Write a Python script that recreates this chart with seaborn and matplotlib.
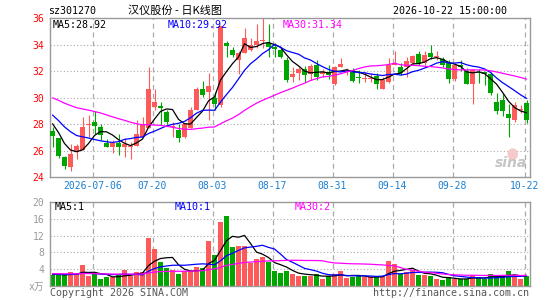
import numpy as np
import pandas as pd
import matplotlib
matplotlib.use("Agg")
import matplotlib.pyplot as plt
from matplotlib.patches import Ellipse
import seaborn as sns

# ---------------- data ----------------
code = "sz301270"
title = "汉仪股份 - 日K线图"
stamp = "2026-10-22 15:00:00"

opens = [27.5, 27.0, 25.55, 24.8, 25.9, 26.05, 27.95, 28.15, 27.8, 26.6,
         26.3, 26.6, 26.3, 26.28, 26.4, 27.05, 27.7, 29.33, 29.4, 28.9,
         27.78, 27.55, 27.05, 27.7, 29.05, 30.65, 30.45, 30.0, 29.45, 34.1,
         33.6, 32.85, 33.35, 33.6, 34.0, 34.28, 34.1, 33.8, 33.6, 32.85,
         31.6, 31.85, 32.15, 31.8, 32.5, 31.8, 31.95, 31.05, 32.35, 32.03,
         32.1, 31.53, 31.45, 31.45, 31.65, 30.7, 31.2, 32.48, 32.3, 32.35,
         32.6, 33.3, 32.6, 33.4, 33.05, 32.9, 32.6, 31.45, 32.5, 32.05,
         31.05, 31.95, 31.87, 31.8, 29.7, 29.8, 28.8, 28.3, 29.05, 29.6]
closes = [27.1, 25.6, 24.85, 25.75, 26.35, 27.8, 28.0, 27.9, 27.2, 26.25,
          26.6, 26.25, 26.55, 26.32, 27.25, 28.05, 30.7, 29.65, 29.2, 28.2,
          27.82, 27.0, 28.0, 29.05, 30.7, 30.2, 30.9, 29.5, 35.4, 33.9,
          33.2, 33.4, 34.5, 34.0, 34.25, 34.32, 33.8, 33.65, 33.1, 31.35,
          31.8, 32.15, 31.7, 32.4, 31.6, 31.95, 31.7, 32.3, 32.55, 32.07,
          31.3, 31.5, 31.5, 31.48, 31.05, 31.35, 32.45, 32.6, 31.85, 32.75,
          33.15, 32.55, 33.2, 33.1, 33.15, 32.5, 31.45, 32.5, 32.3, 31.05,
          32.1, 31.85, 31.83, 30.4, 29.0, 29.0, 28.5, 29.45, 29.1, 28.3]
highs = [27.8, 27.0, 25.6, 26.5, 26.55, 28.55, 28.7, 29.0, 28.0, 26.9,
         26.8, 27.25, 26.95, 26.7, 28.3, 28.55, 32.3, 30.7, 29.65, 29.1,
         28.2, 28.05, 28.05, 29.3, 30.8, 31.3, 31.85, 30.45, 35.4, 34.3,
         33.85, 33.5, 35.25, 34.5, 35.6, 36.0, 35.6, 34.1, 33.85, 33.1,
         32.35, 32.35, 32.4, 32.55, 32.85, 32.2, 32.45, 32.4, 33.0, 32.25,
         32.25, 32.1, 31.95, 31.85, 31.85, 31.6, 33.0, 33.55, 32.6, 33.1,
         33.2, 33.5, 33.5, 34.0, 33.5, 33.1, 32.85, 32.6, 32.85, 32.25,
         32.2, 32.2, 32.0, 31.95, 30.35, 30.25, 29.55, 29.7, 29.45, 29.85]
lows = [26.25, 25.45, 24.6, 24.5, 25.35, 26.05, 27.05, 27.3, 26.8, 26.25,
        25.8, 25.7, 25.55, 25.4, 26.4, 27.05, 27.7, 29.1, 27.95, 28.05,
        27.05, 26.7, 26.95, 27.7, 29.05, 30.05, 28.3, 29.1, 29.33, 33.1,
        33.05, 31.8, 33.35, 33.5, 33.75, 33.75, 33.1, 33.1, 33.0, 31.2,
        31.2, 31.35, 31.2, 31.35, 31.35, 31.6, 31.45, 31.0, 32.35, 31.7,
        31.2, 31.1, 31.2, 31.2, 30.7, 30.65, 31.1, 32.45, 31.7, 31.6,
        32.45, 32.45, 32.45, 32.95, 32.85, 32.35, 31.15, 31.3, 32.0, 31.05,
        29.5, 31.15, 30.95, 30.2, 28.8, 28.6, 27.05, 28.2, 28.85, 28.1]
volumes = [2.5, 2.5, 2.5, 3.3, 2.9, 4.9, 2.3, 2.7, 1.6, 2.0,
           2.0, 2.5, 3.7, 2.3, 3.3, 3.3, 11.5, 8.9, 5.6, 4.2,
           3.7, 2.7, 3.5, 3.5, 4.6, 4.2, 10.7, 7.4, 15.2, 16.6,
           9.3, 9.6, 9.6, 5.5, 6.3, 6.8, 5.6, 3.5, 3.0, 3.5,
           2.7, 2.4, 2.3, 2.3, 2.9, 1.6, 2.3, 2.7, 3.5, 1.8,
           2.0, 2.3, 2.1, 2.0, 2.0, 2.3, 6.0, 5.1, 2.9, 3.3,
           3.7, 2.5, 2.5, 2.3, 1.6, 1.3, 2.0, 1.7, 1.5, 1.6,
           2.5, 2.0, 1.7, 2.7, 2.0, 2.3, 3.5, 2.5, 1.6, 2.4]
# history before the first visible day (feeds the moving averages)
prior_closes = [31.2, 31.5, 30.9, 31.3, 30.6, 30.8, 31.0, 30.4, 30.7, 30.9,
                30.5, 30.2, 30.6, 30.8, 30.3, 30.5, 30.4, 30.1, 30.2, 30.05,
                29.8, 29.6, 29.4, 29.2, 28.8, 28.9, 29.0, 28.2, 27.0]
prior_volumes = [3.2, 2.9, 3.4, 2.8, 3.1, 2.6, 3.0, 3.3, 2.7, 3.1,
                 2.9, 3.2, 2.6, 3.0, 2.8, 3.3, 2.9, 2.7, 3.1, 2.8,
                 2.6, 3.0, 2.9, 2.7, 2.8, 2.6, 3.0, 2.9, 2.6]

tick_idx = [7, 17, 27, 37, 47, 57, 67, 79]
tick_labels = ["2026-07-06", "07-20", "08-03", "08-17", "08-31", "09-14", "09-28", "10-22"]
price_ticks = [24, 26, 28, 30, 32, 34, 36]
vol_ticks = [0, 4, 8, 12, 16, 20]
vol_tick_labels = ["x万", "4", "8", "12", "16", "20"]
price_ma_labels = ["MA5:28.92", "MA10:29.92", "MA30:31.34"]
vol_ma_labels = ["MA5:1", "MA10:1", "MA30:2"]
ma_windows = [5, 10, 30]

# ---------------- style ----------------
sns.set_theme(style="white")
MONO = ["DejaVu Sans Mono", "Noto Sans CJK SC"]
CJK = ["Noto Sans CJK SC", "DejaVu Sans"]
plt.rcParams["font.family"] = MONO

RED = "#ff5a5a"
GREEN = "#00a600"
GRID = "#aaaaaa"
BORDER = "#999999"
MA_COLORS = ["#000000", "#0000ff", "#ff00ff"]

W, H = 545, 300
fig = plt.figure(figsize=(W / 100, H / 100), dpi=100)
fig.patch.set_facecolor("white")


def frac(x0, y0, x1, y1):
    return [x0 / W, 1 - y1 / H, (x1 - x0) / W, (y1 - y0) / H]


ax = fig.add_axes(frac(50, 18.3, 529.5, 177.3))
axv = fig.add_axes(frac(50, 202.3, 529.5, 285.7))

n = len(closes)
idx = np.arange(n)
df = pd.DataFrame({"i": idx, "open": opens, "close": closes, "high": highs,
                   "low": lows, "vol": volumes})
up = df["close"] >= df["open"]
colors = np.where(up, RED, GREEN)

cs = pd.Series(prior_closes + closes)
vs = pd.Series(prior_volumes + volumes)
for w in ma_windows:
    df[f"ma{w}"] = cs.rolling(w).mean().iloc[len(prior_closes):].to_numpy()
    df[f"vma{w}"] = vs.rolling(w).mean().iloc[len(prior_volumes):].to_numpy()

xlo, xhi = -0.42, 79.5
gridx = [t - 0.33 for t in tick_idx]

# ---------------- price panel ----------------
for y in price_ticks[1:-1]:
    ax.axhline(y, color=GRID, lw=0.8, ls=(0, (1, 2)), zorder=0)
for gx in gridx:
    ax.axvline(gx, color=GRID, lw=0.9, ls=(0, (4, 3)), zorder=0)

# sina watermark logo (eye + word) inside the price panel
ax.add_patch(Ellipse((0.965, 0.145), 0.022, 0.075, transform=ax.transAxes,
                     facecolor="#f6caca", edgecolor="none", zorder=1))
ax.text(0.962, 0.09, "sina", transform=ax.transAxes, fontsize=10, color="#c4c4c4",
        fontweight="bold", fontstyle="italic", va="center", ha="center",
        family=["DejaVu Sans"], zorder=1)

ax.vlines(df["i"], df["low"], df["high"], colors=colors, lw=0.8, zorder=2)
body_lo = np.minimum(df["open"], df["close"])
body_h = np.maximum(np.abs(df["close"] - df["open"]), 0.08)
ax.bar(df["i"], body_h, bottom=body_lo, width=0.8, color=colors, lw=0, zorder=3)

for w, c in zip(ma_windows, MA_COLORS):
    sns.lineplot(data=df, x="i", y=f"ma{w}", ax=ax, color=c, lw=0.9, zorder=4)

ax.set_xlim(xlo, xhi)
ax.set_ylim(24, 36)
ax.set_yticks(price_ticks)
ax.set_yticklabels([str(t) for t in price_ticks])
ax.tick_params(axis="y", length=0, pad=4, labelsize=7, labelcolor="red")
ax.set_xticks(gridx)
ax.set_xticklabels(tick_labels)
ax.tick_params(axis="x", length=0, pad=3, labelsize=7, labelcolor="#1a7fd0")
ax.set_xlabel("")
ax.set_ylabel("")
for s in ax.spines.values():
    s.set_color(BORDER)
    s.set_linewidth(1.0)

# ---------------- volume panel ----------------
for y in vol_ticks[1:-1]:
    axv.axhline(y, color=GRID, lw=0.8, ls=(0, (1, 2)), zorder=0)
for gx in gridx:
    axv.axvline(gx, color=GRID, lw=0.9, ls=(0, (4, 3)), zorder=0)
axv.bar(df["i"], df["vol"], width=0.8, color=colors, lw=0, zorder=2)
for w, c in zip(ma_windows, MA_COLORS):
    sns.lineplot(data=df, x="i", y=f"vma{w}", ax=axv, color=c, lw=0.9, zorder=4)
axv.set_xlim(xlo, xhi)
axv.set_ylim(0, 20)
axv.set_yticks(vol_ticks)
axv.set_yticklabels(vol_tick_labels)
axv.tick_params(axis="y", length=0, pad=4, labelsize=7, labelcolor="#999999")
axv.set_xticks([])
axv.set_xlabel("")
axv.set_ylabel("")
for s in axv.spines.values():
    s.set_color(BORDER)
    s.set_linewidth(1.0)

# ---------------- texts ----------------
def px(x, y):
    return x / W, 1 - y / H

fig.text(*px(48, 11), code, fontsize=7.2, color="black", va="center", ha="left", family=MONO)
fig.text(*px(175.5, 11), title, fontsize=8, color="black", va="center", ha="center", family=CJK)
fig.text(*px(507, 11), stamp, fontsize=7.2, color="black", va="center", ha="right", family=MONO)

for lab, c, x in zip(price_ma_labels, MA_COLORS, [52.5, 167.3, 282.7]):
    fig.text(*px(x, 24.5), lab, fontsize=7.2, color=c, va="center", ha="left", family=MONO)
for lab, c, x in zip(vol_ma_labels, MA_COLORS, [54.3, 175, 295]):
    fig.text(*px(x, 207), lab, fontsize=7.2, color=c, va="center", ha="left", family=MONO)

fig.text(*px(50, 293), "Copyright 2026 SINA.COM", fontsize=7.2, color="#555555",
         va="center", ha="left", family=MONO)
fig.text(*px(529.5, 293), "http://finance.sina.com.cn", fontsize=7.2, color="#555555",
         va="center", ha="right", family=MONO)

fig.savefig("out.png", dpi=100, facecolor="white")
